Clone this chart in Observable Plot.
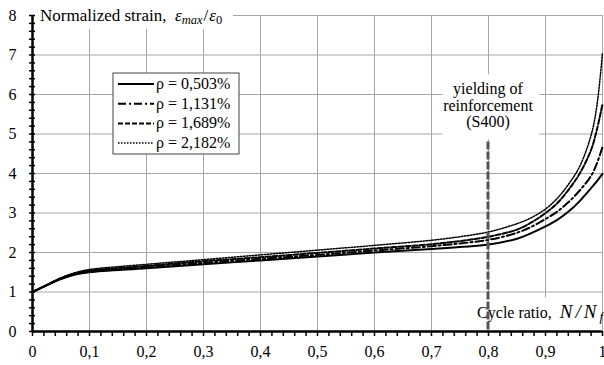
<!DOCTYPE html>
<html><head><meta charset="utf-8">
<script src="https://cdn.jsdelivr.net/npm/d3@7"></script>
<script src="https://cdn.jsdelivr.net/npm/@observablehq/plot@0.6"></script>
<style>body{margin:0;background:#fff} svg{display:block} #chart{width:604px;height:365px}</style>
</head><body><div id="chart"></div>
<script>
const cycleRatio = [0, 0.025, 0.05, 0.075, 0.1, 0.2, 0.3, 0.4, 0.5, 0.6, 0.7, 0.75, 0.8, 0.85, 0.875, 0.9, 0.92, 0.94, 0.96, 0.98, 0.99, 1];
const strainRho0503 = [1, 1.17, 1.33, 1.44, 1.50, 1.60, 1.70, 1.80, 1.90, 2.00, 2.09, 2.14, 2.20, 2.35, 2.49, 2.66, 2.82, 3.03, 3.30, 3.63, 3.80, 3.99];
const strainRho1131 = [1, 1.17, 1.34, 1.45, 1.52, 1.63, 1.74, 1.84, 1.94, 2.05, 2.16, 2.23, 2.32, 2.50, 2.65, 2.85, 3.03, 3.27, 3.57, 3.94, 4.25, 4.67];
const strainRho1689 = [1, 1.18, 1.35, 1.47, 1.54, 1.66, 1.78, 1.88, 1.99, 2.10, 2.21, 2.29, 2.40, 2.58, 2.76, 3.00, 3.24, 3.58, 4.00, 4.60, 5.10, 5.76];
const strainRho2182 = [1, 1.18, 1.36, 1.49, 1.57, 1.70, 1.82, 1.94, 2.06, 2.18, 2.31, 2.40, 2.52, 2.73, 2.88, 3.10, 3.36, 3.72, 4.18, 4.97, 5.70, 7.05];
const seriesLabels = ["ρ = 0,503%", "ρ = 1,131%", "ρ = 1,689%", "ρ = 2,182%"];
const xTicks = [0, 0.1, 0.2, 0.3, 0.4, 0.5, 0.6, 0.7, 0.8, 0.9, 1];
const xTickLabels = ["0", "0,1", "0,2", "0,3", "0,4", "0,5", "0,6", "0,7", "0,8", "0,9", "1"];
const yTicks = [0, 1, 2, 3, 4, 5, 6, 7, 8];
const xMinorTicks = d3.range(0, 51).map(i => i / 50);
const yMinorTicks = d3.range(0, 41).map(i => i / 5);
const yieldRatio = [0.8];
const yieldTop = 4.8;
const yieldLabel = ["yielding of", "reinforcement", "(S400)"];

const seriesValues = [strainRho0503, strainRho1131, strainRho1689, strainRho2182];
const dashes = [null, "8,3,2,3", "5,2", "1.5,1.5"];
const widths = [2, 2, 2, 1.5];
const font = "'Liberation Serif', 'Times New Roman', serif";

const rows = seriesValues.map(vals => cycleRatio.map((x, i) => ({x, y: vals[i]})));

const plot = Plot.plot({
  width: 604, height: 365,
  marginLeft: 32, marginRight: 2, marginTop: 15, marginBottom: 34,
  style: {fontFamily: font, fontSize: "16px", color: "#000", background: "#fff"},
  x: {domain: [0, 1]},
  y: {domain: [0, 8]},
  marks: [
    Plot.gridX(xTicks, {stroke: "#a6a6a6", strokeOpacity: 1}),
    Plot.gridY(yTicks, {stroke: "#a6a6a6", strokeOpacity: 1}),
    Plot.axisX(xTicks, {tickSize: 0, tickPadding: 14.5, label: null, tickFormat: d => xTickLabels[xTicks.indexOf(d)], fontSize: 16}),
    Plot.axisY(yTicks, {tickSize: 0, tickPadding: 16, label: null, fontSize: 16}),
    Plot.axisX(xMinorTicks, {tickSize: 5, text: null, label: null, stroke: "#000", strokeWidth: 1.5}),
    Plot.axisY(yMinorTicks, {tickSize: 6, dx: 3, text: null, label: null, stroke: "#000", strokeWidth: 1.5}),
    ...rows.map((r, k) => Plot.line(r, {x: "x", y: "y", curve: "catmull-rom", stroke: "#000", strokeWidth: widths[k], strokeDasharray: dashes[k]})),
    Plot.ruleX([0], {stroke: "#000", strokeWidth: 2.5}),
    Plot.ruleY([0], {stroke: "#000", strokeWidth: 2.5})
  ]
});
document.getElementById("chart").appendChild(plot);

const svg = d3.select(plot);
const sx = plot.scale("x"), sy = plot.scale("y");
const X = v => sx.apply(v), Y = v => sy.apply(v);

const curvesFirst = svg.select("g[aria-label='line']").node();
const ann = d3.select(plot.insertBefore(document.createElementNS("http://www.w3.org/2000/svg", "g"), curvesFirst));
ann.attr("font-family", font).attr("text-anchor", "start").attr("fill", "#000");

// title
ann.append("rect").attr("x", X(0) + 3).attr("y", Y(8) - 6).attr("width", 198).attr("height", 20).attr("fill", "#fff");
const t = ann.append("text").attr("x", X(0) + 8).attr("y", 21).attr("font-size", 17).style("white-space", "pre");
t.append("tspan").text("Normalized strain,  ");
t.append("tspan").attr("font-style", "italic").text("ε");
t.append("tspan").attr("font-style", "italic").attr("font-size", 12.5).attr("dy", 3).text("max");
t.append("tspan").attr("dy", -3).attr("dx", 1).text("/");
t.append("tspan").attr("font-style", "italic").attr("dx", 1).text("ε");
t.append("tspan").attr("font-size", 12.5).attr("dy", 3).text("0");

// x label
ann.append("rect").attr("x", X(0.765)).attr("y", Y(0.85)).attr("width", X(1) - X(0.765) - 1).attr("height", Y(0) - Y(0.85) - 1).attr("fill", "#fff");
const xl = ann.append("text").attr("x", 603).attr("y", 318).attr("font-size", 16).attr("text-anchor", "end").style("white-space", "pre");
xl.append("tspan").text("Cycle ratio,  ");
xl.append("tspan").attr("font-style", "italic").attr("font-size", 19).attr("letter-spacing", 3).text("N/N");
xl.append("tspan").attr("font-style", "italic").attr("font-size", 13).attr("dy", 3).text("f");

// yield annotation
ann.append("rect").attr("x", X(0.72)).attr("y", Y(6.5)).attr("width", X(0.89) - X(0.72)).attr("height", Y(4.85) - Y(6.5)).attr("fill", "#fff");
ann.append("g").selectAll("text").data(yieldLabel).join("text")
  .attr("x", X(0.8)).attr("y", (d, i) => 94 + i * 16.5)
  .attr("text-anchor", "middle").attr("font-size", 16).text(d => d);

// yield line on top
svg.append("g").selectAll("line").data(yieldRatio).join("line")
  .attr("x1", d => X(d)).attr("x2", d => X(d)).attr("y1", Y(yieldTop)).attr("y2", Y(0))
  .attr("stroke", "#555").attr("stroke-width", 3).attr("stroke-dasharray", "8,2");

// legend
const lg = svg.append("g").attr("font-family", font).attr("text-anchor", "start");
const lx = 113, ly = 73;
lg.append("rect").attr("x", lx).attr("y", ly).attr("width", 126).attr("height", 81).attr("fill", "#fff").attr("stroke", "#444").attr("stroke-width", 1);
seriesLabels.forEach((s, k) => {
  const yy = ly + 11 + k * 19.7;
  lg.append("line").attr("x1", lx + 5).attr("x2", lx + 41).attr("y1", yy).attr("y2", yy)
    .attr("stroke", "#000").attr("stroke-width", widths[k]).attr("stroke-dasharray", dashes[k]);
  lg.append("text").attr("x", lx + 43).attr("y", yy + 5).attr("font-size", 16).attr("fill", "#000").text(s);
});
</script>
</body></html>
